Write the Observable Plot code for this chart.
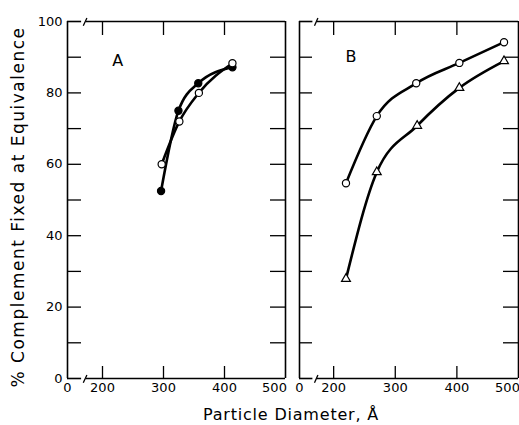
<!DOCTYPE html>
<html><head><meta charset="utf-8">
<script src="https://cdn.jsdelivr.net/npm/d3@7"></script>
<script src="https://cdn.jsdelivr.net/npm/@observablehq/plot@0.6"></script>
<style>
body{margin:0;background:#fff;}
#wrap{position:relative;width:519px;height:425px;font-family:"DejaVu Sans",sans-serif;color:#000;}
#wrap svg{position:absolute;top:0;z-index:1;}
#xlabel{position:absolute;z-index:3;top:407px;left:291px;transform:translateX(-50%);font-size:16px;letter-spacing:0.8px;white-space:nowrap;line-height:1;}
</style></head><body>
<div id="wrap"><div id="xlabel">Particle Diameter, Å</div></div>
<script>
// ---- data ----
const xTickLabels = [0, 200, 300, 400];
const xEndLabel = [500];
const xInnerTicks = [200, 300, 400];
const yTickLabels = [0, 20, 40, 60, 80, 100];
const yMinorTicks = [10, 20, 30, 40, 50, 60, 70, 80, 90];
const breakAt = [125, 165];
const yTitle = "% Complement Fixed at Equivalence";

const aOpenX = [297, 326, 358, 413];
const aOpenY = [60, 72, 80, 88.3];
const aFilledX = [296, 324.5, 357, 413];
const aFilledY = [52.5, 75, 82.7, 87.2];

const bCircleX = [220, 270, 334, 404, 476.5];
const bCircleY = [54.7, 73.5, 82.7, 88.4, 94.2];
const bTriX = [220, 270, 335.5, 404, 476.5];
const bTriY = [27.9, 57.8, 70.8, 81.4, 88.9];

const pts = (xs, ys) => xs.map((x, i) => ({x, y: ys[i]}));

function panel({w, left, right, range, series, letter, letterPos, yAxis, leftTick, rightTick}) {
  const H = 425, mt = 21, mb = 47;
  const innerH = H - mt - mb;
  const innerW = w - left - right;
  const marks = [];
  // frame
  marks.push(Plot.ruleX([0, 500], {x: d => d, y1: 0, y2: 100, strokeWidth: 1.6}));
  for (const yv of [0, 100]) {
    marks.push(Plot.ruleY([yv], {y: d => d, x1: 0, x2: breakAt[0], strokeWidth: 1.6}));
    marks.push(Plot.ruleY([yv], {y: d => d, x1: breakAt[1], x2: 500, strokeWidth: 1.6}));
    marks.push(Plot.link([yv], {x1: 140, x2: 172, y1: d => d - 1.2, y2: d => d + 1.0, strokeWidth: 1.3}));
  }
  // inward ticks
  marks.push(Plot.tickY(yMinorTicks, {y: d => d, insetRight: innerW - leftTick, strokeWidth: 1.3}));
  marks.push(Plot.tickY(yMinorTicks, {y: d => d, insetLeft: innerW - rightTick, strokeWidth: 1.3}));
  marks.push(Plot.tickX(xInnerTicks, {x: d => d, insetBottom: innerH - 14, strokeWidth: 1.3}));
  marks.push(Plot.tickX(xInnerTicks, {x: d => d, insetTop: innerH - 12, strokeWidth: 1.3}));
  // tick labels
  marks.push(Plot.axisX(xTickLabels, {anchor: "bottom", tickSize: 0, tickPadding: 4, label: null}));
  marks.push(Plot.axisX(xEndLabel, {anchor: "bottom", tickSize: 0, tickPadding: 4, dx: -11, label: null}));
  if (yAxis) {
    marks.push(Plot.axisY(yTickLabels, {anchor: "left", tickSize: 0, tickPadding: 5, label: null}));
    marks.push(Plot.text([yAxis], {text: d => d, frameAnchor: "left", textAnchor: "middle", lineAnchor: "middle", rotate: -90, dx: -49, dy: 7, fontSize: 17}));
  }
  // letter
  marks.push(Plot.text([letter], {text: d => d, x: letterPos[0], y: letterPos[1], fontSize: 16}));
  // series
  for (const s of series) {
    marks.push(Plot.line(s.data, {x: "x", y: "y", curve: "monotone-x", stroke: "black", strokeWidth: 2.6}));
  }
  for (const s of series) {
    marks.push(Plot.dot(s.data, {x: "x", y: "y", r: s.r, symbol: s.symbol, fill: s.fill, stroke: "black", strokeWidth: 1.2}));
  }
  return Plot.plot({
    width: w, height: H,
    marginLeft: left, marginRight: right, marginTop: mt, marginBottom: mb,
    style: {fontFamily: "DejaVu Sans, sans-serif", fontSize: "13px", background: "transparent", color: "black"},
    x: {type: "linear", domain: [0, 175, 500], range, axis: null},
    y: {domain: [0, 100], axis: null},
    marks
  });
}

const wrap = document.getElementById("wrap");
const pA = panel({
  w: 292, left: 67, right: 7, range: [67, 86.75, 285],
  series: [
    {data: pts(aFilledX, aFilledY), symbol: "circle", fill: "black", r: 3.6},
    {data: pts(aOpenX, aOpenY), symbol: "circle", fill: "white", r: 3.6}
  ],
  letter: "A", letterPos: [225, 89],
  yAxis: yTitle, leftTick: 14, rightTick: 15
});
pA.style.left = "0px";
d3.select(pA).selectAll("text").filter(function () { return this.textContent === yTitle; })
  .attr("letter-spacing", "1.5px");
const pB = panel({
  w: 227, left: 7, right: 1, range: [7, 25.75, 226],
  series: [
    {data: pts(bCircleX, bCircleY), symbol: "circle", fill: "white", r: 3.6},
    {data: pts(bTriX, bTriY), symbol: "triangle", fill: "white", r: 3.3}
  ],
  letter: "B", letterPos: [228, 90],
  yAxis: null, leftTick: 13, rightTick: 15
});
pB.style.left = "292px";
wrap.appendChild(pA);
wrap.appendChild(pB);
</script>
</body></html>
